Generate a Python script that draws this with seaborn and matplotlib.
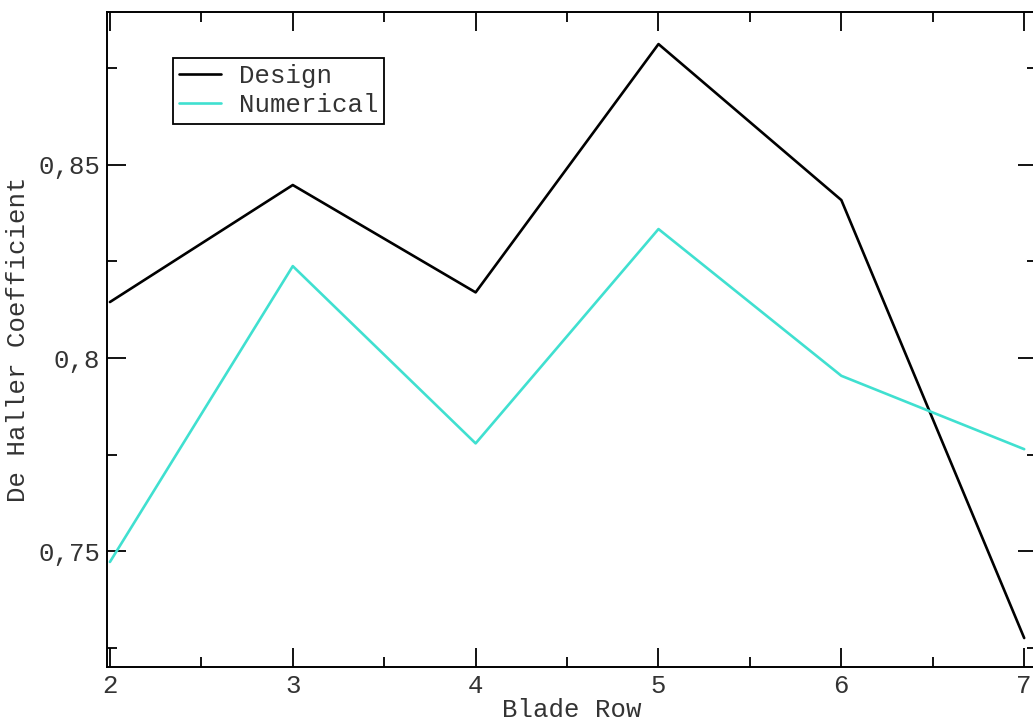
#!/usr/bin/env python3
"""De Haller coefficient per blade row: design vs numerical."""

import matplotlib

matplotlib.use("Agg")
import matplotlib.pyplot as plt
import pandas as pd
import seaborn as sns
from matplotlib.ticker import FuncFormatter, MultipleLocator

BLADE_ROWS = [2, 3, 4, 5, 6, 7]
DESIGN = [0.8145, 0.8448, 0.8170, 0.8813, 0.8409, 0.7275]
NUMERICAL = [0.7472, 0.8238, 0.7779, 0.8334, 0.7954, 0.7764]
SERIES = ["Design", "Numerical"]
COLORS = {"Design": "black", "Numerical": "#40E0D0"}


def comma_fmt(v, _pos):
    return f"{v:g}".replace(".", ",")


def main() -> None:
    df = pd.concat([
        pd.DataFrame({"row": BLADE_ROWS, "value": DESIGN, "series": "Design"}),
        pd.DataFrame({"row": BLADE_ROWS, "value": NUMERICAL, "series": "Numerical"}),
    ])

    sns.set_theme(style="ticks")
    plt.rcParams.update({"font.family": ["Liberation Mono", "DejaVu Sans Mono"], "font.size": 18})

    W, H = 1033, 723
    fig = plt.figure(figsize=(W / 100, H / 100), dpi=100)
    ax = fig.add_axes([107 / W, (H - 667) / H, (1037 - 107) / W, (667 - 12) / H])

    sns.lineplot(data=df, x="row", y="value", hue="series", hue_order=SERIES,
                 palette=COLORS, linewidth=1.9, ax=ax, legend=True)

    ax.set_xlim(1.984, 7.07)
    ax.set_ylim(0.72, 0.8896)
    ax.xaxis.set_major_locator(MultipleLocator(1))
    ax.xaxis.set_minor_locator(MultipleLocator(0.5))
    ax.yaxis.set_major_locator(MultipleLocator(0.05))
    ax.yaxis.set_minor_locator(MultipleLocator(0.025))
    ax.yaxis.set_major_formatter(FuncFormatter(comma_fmt))
    ax.xaxis.set_major_formatter(FuncFormatter(comma_fmt))

    text_col = "#333333"
    ax.tick_params(which="both", direction="in", top=True, right=True, color="black",
                   labelcolor=text_col, labelsize=18.5)
    ax.tick_params(which="major", length=14, width=1.3, pad=5)
    ax.tick_params(which="minor", length=7, width=1.3)
    for s in ax.spines.values():
        s.set_color("black")
        s.set_linewidth(1.4)

    ax.set_xlabel("Blade Row", fontsize=18.5, color=text_col, labelpad=0)
    ax.set_ylabel("De Haller Coefficient", fontsize=18.5, color=text_col, labelpad=6)

    leg = ax.legend(loc="upper left", bbox_to_anchor=(0.071, 0.930), borderaxespad=0,
                    fontsize=18.5, frameon=True, fancybox=False, handlelength=1.6,
                    handletextpad=0.7, labelspacing=0.2, borderpad=0.25)
    leg.get_frame().set_edgecolor("black")
    leg.get_frame().set_linewidth(1.3)
    leg.get_frame().set_alpha(1)
    for t in leg.get_texts():
        t.set_color(text_col)

    fig.savefig("out.png", dpi=100)
    plt.close(fig)


if __name__ == "__main__":
    main()
